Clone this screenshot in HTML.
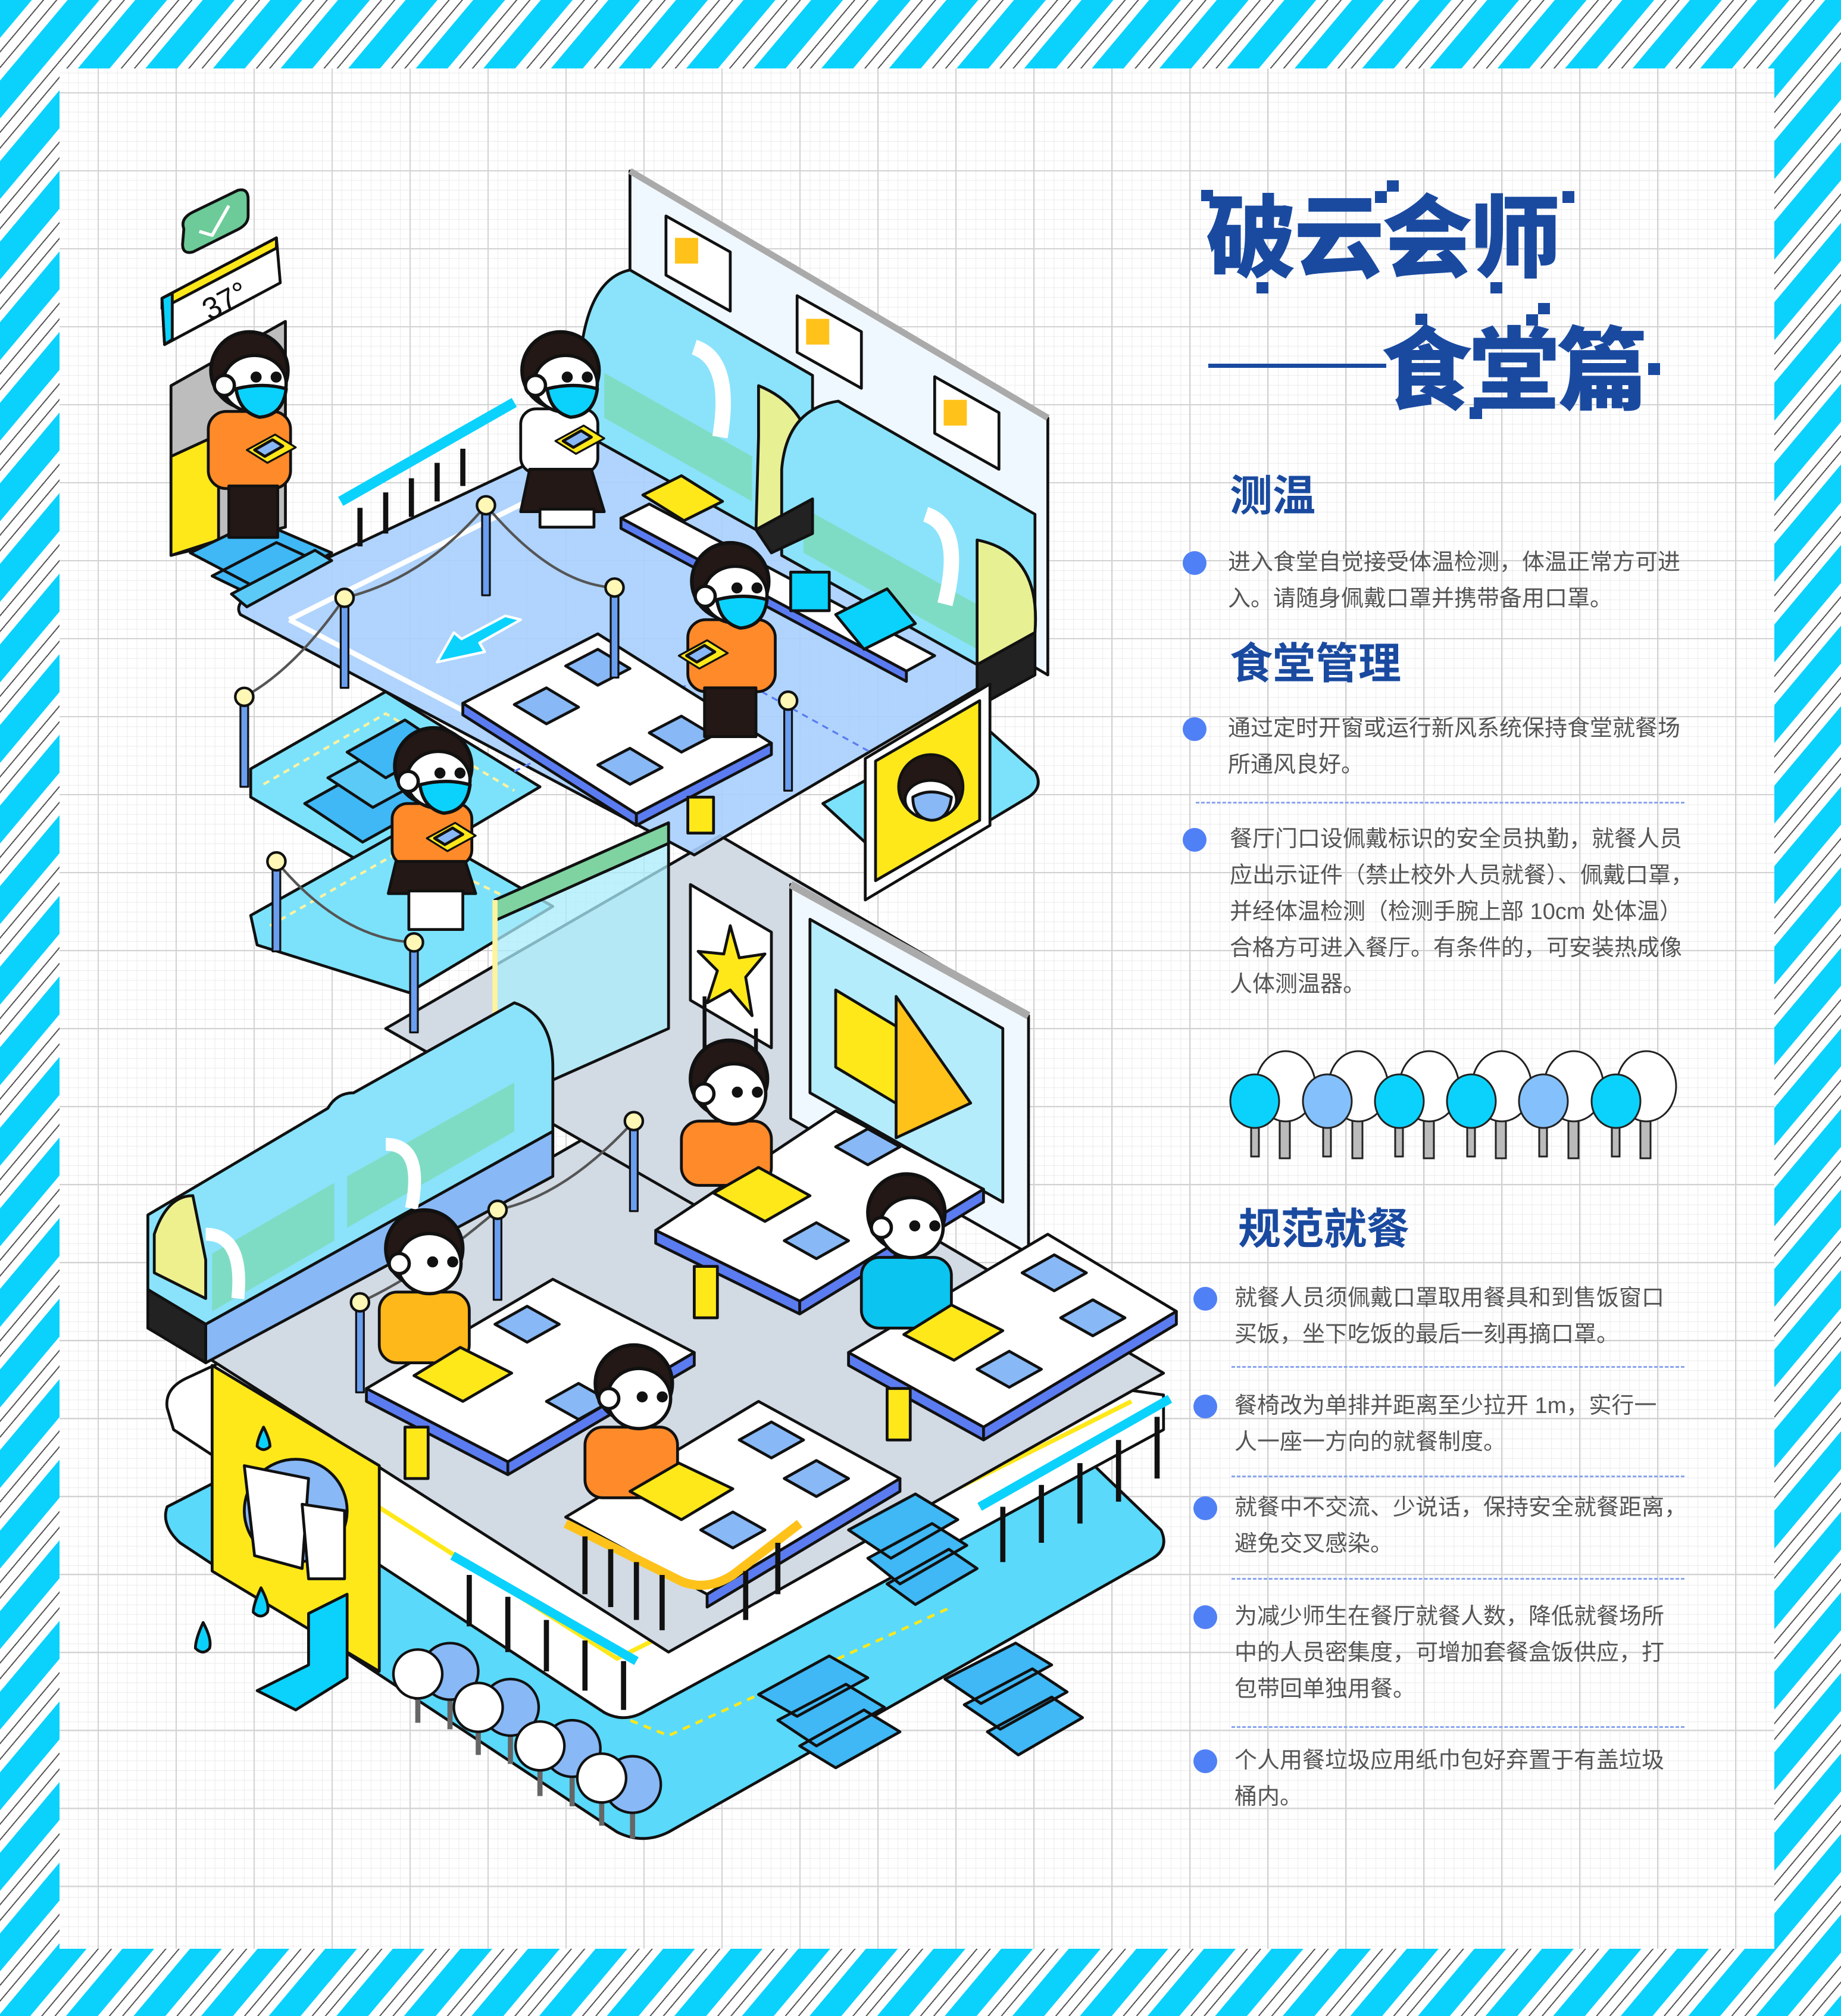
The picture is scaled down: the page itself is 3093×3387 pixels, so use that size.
<!DOCTYPE html>
<html><head><meta charset="utf-8">
<style>
html,body{margin:0;padding:0;}
body{width:3093px;height:3387px;position:relative;overflow:hidden;
background:repeating-linear-gradient(130deg,#0bd2fc 0 41px,#fff 41px 55px,#555 55px 57px,#fff 57px 72px,#555 72px 74px,#fff 74px 87px);}
#panel{position:absolute;left:100px;top:115px;width:2881px;height:3159px;background-color:#fff;
background-image:
linear-gradient(#d2d2d2 2px,transparent 2px),
linear-gradient(90deg,#d2d2d2 2px,transparent 2px),
linear-gradient(#ebebeb 1px,transparent 1px),
linear-gradient(90deg,#ebebeb 1px,transparent 1px);
background-size:131px 131px,131px 131px,16.4px 16.4px,16.4px 16.4px;
background-position:64px 40px,64px 40px,64px 40px,64px 40px;}
.t{position:absolute;font-family:"Liberation Sans","Noto Sans CJK SC",sans-serif;white-space:nowrap;}
.title{font-size:152px;font-weight:900;color:#1a4aa0;line-height:1;letter-spacing:-4px;}
.h{font-size:72px;font-weight:700;color:#1a4aa0;line-height:1;}
.p{font-size:38px;color:#555;line-height:61px;}
.dot{position:absolute;width:40px;height:40px;border-radius:50%;background:#5080f5;}
.dash{position:absolute;height:0;border-top:3px dashed #8aa4ee;}
svg{position:absolute;left:0;top:0;}
</style></head><body>
<div id="panel"></div>

<svg width="3093" height="3387" viewBox="0 0 3093 3387">
<defs>
<g id="head">
 <circle cx="0" cy="-3" r="23" fill="#231815"/>
 <ellipse cx="3" cy="5" rx="19" ry="17" fill="#fff" stroke="#111" stroke-width="2"/>
 <circle cx="-15" cy="6" r="6" fill="#fff" stroke="#111" stroke-width="2"/>
 <circle cx="4" cy="1" r="2.2" fill="#111"/><circle cx="16" cy="1" r="2.2" fill="#111"/>
 <path d="M-8,8 Q8,4 22,8 Q20,24 6,25 Q-6,22 -8,8Z" fill="#0bd2fc" stroke="#111" stroke-width="2"/>
</g>
<g id="headn">
 <circle cx="0" cy="-3" r="23" fill="#231815"/>
 <ellipse cx="3" cy="6" rx="19" ry="18" fill="#fff" stroke="#111" stroke-width="2"/>
 <circle cx="-15" cy="6" r="6" fill="#fff" stroke="#111" stroke-width="2"/>
 <circle cx="5" cy="5" r="2.2" fill="#111"/><circle cx="17" cy="5" r="2.2" fill="#111"/>
</g>
<g id="tray">
 <path d="M0,0 L22,-12 L38,-2 L16,10Z" fill="#ffe81a" stroke="#111" stroke-width="1.5"/>
 <path d="M6,0 L20,-8 L28,-3 L14,5Z" fill="#88b8f5"/>
</g>
<g id="post">
 <rect x="-3" y="0" width="6" height="70" fill="#6a9ff0" stroke="#111" stroke-width="1.5"/>
 <circle cx="0" cy="0" r="7" fill="#fff7b5" stroke="#111" stroke-width="2"/>
</g>
</defs>

<!-- trees (actual coords) -->
<g stroke="#222" stroke-width="3">
 <g fill="#bbb">
  <rect x="2150" y="1880" width="17" height="66"/><rect x="2272" y="1880" width="17" height="66"/>
  <rect x="2392" y="1880" width="17" height="66"/><rect x="2513" y="1880" width="17" height="66"/>
  <rect x="2635" y="1880" width="17" height="66"/><rect x="2756" y="1880" width="17" height="66"/>
 </g>
 <g fill="#fff">
  <ellipse cx="2160" cy="1825" rx="50" ry="59"/><ellipse cx="2282" cy="1825" rx="50" ry="59"/>
  <ellipse cx="2401" cy="1825" rx="50" ry="59"/><ellipse cx="2523" cy="1825" rx="50" ry="59"/>
  <ellipse cx="2644" cy="1825" rx="50" ry="59"/><ellipse cx="2766" cy="1825" rx="50" ry="59"/>
 </g>
 <g fill="#bbb">
  <rect x="2102" y="1893" width="13" height="50"/><rect x="2223" y="1893" width="13" height="50"/>
  <rect x="2344" y="1893" width="13" height="50"/><rect x="2465" y="1893" width="13" height="50"/>
  <rect x="2586" y="1893" width="13" height="50"/><rect x="2708" y="1893" width="13" height="50"/>
 </g>
 <ellipse cx="2108" cy="1850" rx="41" ry="45" fill="#0bd2fc"/>
 <ellipse cx="2230" cy="1850" rx="41" ry="45" fill="#84c0fb"/>
 <ellipse cx="2351" cy="1850" rx="41" ry="45" fill="#0bd2fc"/>
 <ellipse cx="2472" cy="1850" rx="41" ry="45" fill="#0bd2fc"/>
 <ellipse cx="2593" cy="1850" rx="41" ry="45" fill="#84c0fb"/>
 <ellipse cx="2715" cy="1850" rx="41" ry="45" fill="#0bd2fc"/>
</g>

<!-- title pixel squares -->
<g fill="#1a4aa0">
 <rect x="2018" y="319" width="20" height="19"/>
 <rect x="2330" y="303" width="20" height="19"/>
 <rect x="2310" y="321" width="20" height="20"/>
 <rect x="2111" y="474" width="20" height="19"/>
 <rect x="2504" y="474" width="20" height="19"/>
 <rect x="2625" y="321" width="20" height="20"/>
 <rect x="2378" y="527" width="20" height="19"/>
 <rect x="2584" y="509" width="20" height="19"/>
 <rect x="2564" y="528" width="20" height="19"/>
 <rect x="2769" y="610" width="20" height="20"/>
 <rect x="2469" y="684" width="21" height="20"/>
</g>

<g transform="scale(2.16)" stroke="#111" stroke-width="2.2" stroke-linejoin="round">
 <!-- lower cyan ground -->
 <path d="M130,1172 L300,1085 L480,1165 L700,1150 L820,1110 L903,1190 Q910,1205 895,1213 L520,1425 Q500,1435 480,1425 L140,1200 Q125,1186 130,1172Z" fill="#5ad9fa"/>
 <path d="M470,1330 L520,1350 L740,1250" fill="none" stroke="#ffe81a" stroke-dasharray="6 5"/>
 <!-- white slab -->
 <path d="M130,1095 Q128,1080 145,1072 L300,1000 L905,1085 L905,1112 L500,1332 Q485,1340 470,1332 L135,1112Z" fill="#fff"/>
 <path d="M165,1090 L480,1290 L880,1090" fill="none" stroke="#ffe81a" stroke-width="3.5"/>
 <!-- gray dining floor -->
 <path d="M160,1055 L525,845 L905,1068 L520,1285Z" fill="#d2dae4"/>
 <!-- middle gray area -->
 <path d="M300,800 L560,650 L800,790 L545,940Z" fill="#d2dae4"/>
 <!-- left cyan platforms -->
 <path d="M195,598 L300,538 L420,612 L312,676 Q300,682 290,676 L195,620Z" fill="#7ce2fb"/>
 <path d="M195,712 L320,642 L430,705 L318,772 L200,735Z" fill="#7ce2fb"/>
 <path d="M205,610 L300,555 L400,615 M210,720 L315,660 L415,708" fill="none" stroke="#fff3a0" stroke-dasharray="5 4" stroke-width="2"/>
 <!-- right cyan platform -->
 <path d="M640,625 L760,560 L805,600 Q812,612 800,620 L700,680 Z" fill="#7ce2fb"/>
 <!-- upper floor -->
 <path d="M187,478 Q182,470 195,462 L470,333 L790,518 L540,665 Z" fill="#a7cffd" fill-opacity="0.9"/>
 <path d="M225,482 L430,380 M225,482 L470,610" fill="none" stroke="#fff" stroke-width="4"/>
 <path d="M400,600 L560,520 L740,620" fill="none" stroke="#5b7cf0" stroke-dasharray="5 4" stroke-width="1.5"/>
 <path d="M405,482 L373,500 L377,507 L340,515 L353,492 L359,497 L393,479Z" fill="#0bd2fc" stroke="#fff" stroke-width="2"/>
 <!-- back wall -->
 <path d="M490,133 L815,325 L815,525 L490,333Z" fill="#f0f8ff"/>
 <path d="M490,133 L815,325" stroke="#aaa" stroke-width="5"/>
 <path d="M518,168 L568,196 L568,242 L518,214Z" fill="#fff"/><rect x="525" y="185" width="18" height="20" fill="#ffc21a" stroke="none"/>
 <path d="M620,230 L670,258 L670,302 L620,274Z" fill="#fff"/><rect x="627" y="248" width="18" height="20" fill="#ffc21a" stroke="none"/>
 <path d="M727,293 L777,321 L777,365 L727,337Z" fill="#fff"/><rect x="734" y="311" width="18" height="20" fill="#ffc21a" stroke="none"/>
 <!-- upper counters -->
 <path d="M450,300 Q452,218 490,210 L632,292 L632,388 L588,412 L450,335Z" fill="#8ae3fb"/>
 <path d="M470,290 L585,355 L585,390 L470,325Z" fill="#7fdcc4" stroke="none"/>
 <path d="M590,300 Q640,320 632,388 L588,412 L590,340Z" fill="#fff27a" fill-opacity="0.8"/>
 <path d="M540,270 Q570,280 560,340" fill="none" stroke="#fff" stroke-width="12"/>
 <path d="M608,365 Q612,318 652,312 L805,400 L805,492 L760,517 L608,432Z" fill="#8ae3fb"/>
 <path d="M625,395 L760,470 L760,505 L625,430Z" fill="#7fdcc4" stroke="none"/>
 <path d="M760,420 Q810,430 805,492 L760,517Z" fill="#fff27a" fill-opacity="0.8"/>
 <path d="M720,400 Q750,410 735,470" fill="none" stroke="#fff" stroke-width="12"/>
 <path d="M760,517 L805,492 L805,525 L760,550Z" fill="#222"/>
 <path d="M588,412 L632,388 L632,415 L600,430Z" fill="#222"/>
 <!-- upper shelf -->
 <path d="M483,403 L505,392 L727,510 L705,522Z" fill="#fff"/>
 <path d="M483,403 L705,522 L705,530 L483,411Z" fill="#5b7cf0"/>
 <path d="M500,385 L530,370 L562,390 L532,405Z" fill="#ffe81a"/>
 <rect x="615" y="445" width="30" height="30" fill="#0bd2fc"/>
 <path d="M650,478 L690,458 L712,485 L672,505Z" fill="#0bd2fc"/>
 <!-- door top-left -->
 <path d="M133,300 L222,250 L222,410 L133,432Z" fill="#bdbdbd"/>
 <path d="M133,355 L170,338 L170,420 L133,432Z" fill="#ffe81a"/>
 <path d="M126,232 L215,185 L218,220 L128,268Z" fill="#fff"/>
 <path d="M126,232 L215,185 L215,193 L126,240Z" fill="#ffe81a"/>
 <path d="M126,232 L134,228 L134,264 L128,268Z" fill="#0bd2fc"/>
 <text x="158" y="246" font-family="Liberation Sans" font-size="24" fill="#111" stroke="none" transform="rotate(-28 168 238)">37°</text>
 <path d="M143,178 Q140,170 150,165 L185,148 Q193,146 193,155 L193,168 Q193,174 186,178 L150,196 Q142,198 142,190Z" fill="#6ccb98"/>
 <path d="M155,180 L165,183 L178,160" fill="none" stroke="#fff" stroke-width="2.5"/>
 <!-- stairs top-left -->
 <path d="M148,430 L200,405 L258,430 L205,460Z M165,448 L215,422 L250,438 L200,465Z" fill="#3fb8f5"/>
 <path d="M180,462 L245,428 L258,436 L192,472Z" fill="#5ccaf7"/>
 <!-- railings top -->
 <path d="M265,390 L400,313" stroke="#0bd2fc" stroke-width="8"/>
 <path d="M280,395 L280,425 M300,383 L300,415 M320,372 L320,402 M340,360 L340,390 M360,349 L360,378" stroke="#111" stroke-width="4"/>
 <!-- left middle stairs -->
 <path d="M237,625 L300,590 L345,620 L282,655Z" fill="#3fb8f5"/>
 <path d="M255,605 L310,575 L345,598 L290,628Z" fill="#5ccaf7"/>
 <path d="M270,585 L315,560 L345,580 L300,605Z" fill="#3fb8f5"/>
 <!-- upper table -->
 <path d="M360,547 L465,493 L600,578 L495,633Z" fill="#fff"/>
 <path d="M360,547 L495,633 L495,642 L360,556Z" fill="#5b7cf0"/>
 <path d="M495,633 L600,578 L600,587 L495,642Z" fill="#5b7cf0"/>
 <path d="M440,518 L465,505 L490,520 L465,533Z M400,548 L425,535 L450,550 L425,563Z M505,570 L530,557 L555,572 L530,585Z M465,595 L490,582 L515,597 L490,610Z" fill="#88b8f5"/>
 <rect x="535" y="620" width="20" height="28" fill="#ffe81a"/>
 <!-- right yellow poster -->
 <path d="M673,590 L770,532 L770,642 L673,700Z" fill="#fff"/>
 <path d="M681,592 L762,545 L762,638 L681,685Z" fill="#ffe81a"/>
 <circle cx="724" cy="612" r="25" fill="#231815"/>
 <ellipse cx="724" cy="622" rx="20" ry="15" fill="#fff"/>
 <path d="M710,620 Q724,612 740,620 Q738,638 724,638 Q710,636 710,620Z" fill="#88b8f5"/>
 <!-- glass door -->
 <path d="M385,700 L520,640 L520,800 L385,860Z" fill="#a9ecfb" fill-opacity="0.75"/>
 <path d="M385,700 L520,640 L520,656 L385,716Z" fill="#7fd3a0"/>
 <path d="M385,700 L385,840" stroke="#fff3a0" stroke-width="4"/>
 <!-- star board -->
 <path d="M537,688 L600,725 L600,815 L537,778Z" fill="#fff"/>
 <path d="M568,720 L575,745 L595,742 L580,760 L585,790 L568,770 L550,780 L558,755 L543,740 L563,742Z" fill="#ffe81a"/>
 <path d="M548,775 L548,830 M588,800 L588,845" stroke="#111" stroke-width="3"/>
 <!-- big board -->
 <path d="M615,688 L800,790 L800,975 L615,870Z" fill="#f0f8ff"/>
 <path d="M615,688 L800,790" stroke="#aaa" stroke-width="6"/>
 <path d="M630,715 L780,800 L780,935 L630,850Z" fill="#b5ecfb"/>
 <path d="M650,770 L700,800 L700,860 L650,830Z" fill="#ffe81a"/>
 <path d="M697,775 L755,858 L697,885Z" fill="#ffc21a"/>
 <!-- lower counters -->
 <path d="M115,945 L255,862 Q262,850 275,850 L400,780 Q430,790 430,830 L430,880 L160,1030 L115,1003Z" fill="#8ae3fb"/>
 <path d="M120,960 Q130,930 150,930 L160,980 L160,1010 L120,990Z" fill="#fff27a" fill-opacity="0.85"/>
 <path d="M165,975 L260,920 L260,965 L165,1020Z M270,915 L400,842 L400,880 L270,955Z" fill="#7fdcc4" stroke="none"/>
 <path d="M160,1030 L430,880 L430,915 L160,1060Z" fill="#88b8f5"/>
 <path d="M115,1003 L160,1030 L160,1060 L115,1033Z" fill="#222"/>
 <path d="M160,960 Q190,960 185,1010 M300,890 Q330,890 320,940" fill="none" stroke="#fff" stroke-width="10"/>
 <!-- left yellow handwash poster -->
 <path d="M165,1062 L295,1140 L295,1300 L165,1222Z" fill="#ffe81a"/>
 <circle cx="230" cy="1175" r="40" fill="#88b8f5"/>
 <path d="M190,1140 L240,1150 L235,1220 L198,1210Z" fill="#fff"/>
 <path d="M235,1170 L268,1175 L268,1228 L240,1228Z" fill="#fff"/>
 <path d="M205,1110 Q210,1120 210,1125 Q205,1130 200,1125 Q200,1120 205,1110Z M158,1262 Q165,1275 163,1282 Q158,1288 152,1282 Q152,1275 158,1262Z M203,1235 Q210,1248 208,1254 Q203,1260 197,1254 Q197,1248 203,1235Z" fill="#0bd2fc"/>
 <path d="M240,1255 L270,1240 L270,1305 L230,1330 L200,1315 L240,1295Z" fill="#0bd2fc"/>
 <!-- lower tables -->
 <g>
  <path d="M285,1080 L430,995 L540,1052 L395,1137Z" fill="#fff"/>
  <path d="M285,1080 L395,1137 L395,1147 L285,1090Z M395,1137 L540,1052 L540,1062 L395,1147Z" fill="#5b7cf0"/>
  <path d="M385,1030 L410,1016 L435,1030 L410,1044Z M425,1090 L450,1076 L475,1090 L450,1104Z" fill="#88b8f5"/>
  <rect x="315" y="1110" width="18" height="40" fill="#ffe81a"/>
  <path d="M510,957 L650,864 L765,925 L622,1012Z" fill="#fff"/>
  <path d="M510,957 L622,1012 L622,1022 L510,967Z M622,1012 L765,925 L765,935 L622,1022Z" fill="#5b7cf0"/>
  <path d="M650,892 L675,878 L700,892 L675,906Z M610,965 L635,951 L660,965 L635,979Z" fill="#88b8f5"/>
  <rect x="540" y="985" width="18" height="40" fill="#ffe81a"/>
  <path d="M660,1052 L815,960 L915,1020 L765,1110Z" fill="#fff"/>
  <path d="M660,1052 L765,1110 L765,1120 L660,1062Z M765,1110 L915,1020 L915,1030 L765,1120Z" fill="#5b7cf0"/>
  <path d="M795,990 L820,976 L845,990 L820,1004Z M825,1025 L850,1011 L875,1025 L850,1039Z M760,1065 L785,1051 L810,1065 L785,1079Z" fill="#88b8f5"/>
  <rect x="690" y="1080" width="18" height="40" fill="#ffe81a"/>
  <path d="M440,1180 L590,1090 L700,1150 L550,1240Z" fill="#fff"/>
  <path d="M550,1240 L700,1150 L700,1160 L550,1250Z" fill="#5b7cf0"/>
  <path d="M575,1120 L600,1106 L625,1120 L600,1134Z M610,1150 L635,1136 L660,1150 L635,1164Z M545,1190 L570,1176 L595,1190 L570,1204Z" fill="#88b8f5"/>
 </g>
 <!-- railings lower -->
 <path d="M440,1185 L530,1230 Q550,1238 570,1225 L622,1185" fill="none" stroke="#ffc21a" stroke-width="7"/>
 <path d="M455,1195 L455,1240 M475,1205 L475,1250 M495,1215 L495,1260 M515,1225 L515,1268 M580,1222 L580,1260 M605,1200 L605,1240" stroke="#111" stroke-width="4"/>
 <path d="M762,1172 L910,1088" stroke="#0bd2fc" stroke-width="7"/>
 <path d="M780,1172 L780,1215 M810,1155 L810,1200 M840,1138 L840,1185 M870,1120 L870,1168 M900,1102 L900,1150" stroke="#111" stroke-width="4"/>
 <path d="M352,1210 L495,1292" stroke="#0bd2fc" stroke-width="7"/>
 <path d="M365,1225 L365,1265 M395,1242 L395,1285 M425,1260 L425,1300 M455,1276 L455,1315 M485,1292 L485,1330" stroke="#111" stroke-width="4"/>
 <!-- lower stairs -->
 <path d="M660,1190 L712,1162 L745,1182 L693,1212Z M675,1212 L725,1185 L752,1202 L700,1232Z M690,1232 L738,1205 L760,1220 L712,1248Z" fill="#3fb8f5"/>
 <path d="M590,1318 L645,1288 L675,1305 L620,1335Z M605,1338 L658,1310 L688,1328 L635,1358Z M622,1358 L672,1330 L700,1347 L650,1375Z" fill="#3fb8f5"/>
 <path d="M735,1306 L790,1278 L818,1295 L763,1325Z M750,1326 L803,1298 L830,1316 L778,1345Z M768,1347 L818,1320 L842,1336 L792,1365Z" fill="#3fb8f5"/>
 <!-- lollipops -->
 <g stroke-width="2">
  <path d="M325,1320 L325,1340 M350,1315 L350,1345 M372,1345 L372,1365 M397,1340 L397,1372 M420,1377 L420,1397 M445,1372 L445,1405 M468,1400 L468,1420 M492,1395 L492,1430" stroke="#666" stroke-width="4"/>
  <circle cx="350" cy="1300" r="22" fill="#88b8f5"/><circle cx="325" cy="1302" r="19" fill="#fff"/>
  <circle cx="397" cy="1328" r="22" fill="#88b8f5"/><circle cx="372" cy="1328" r="19" fill="#fff"/>
  <circle cx="445" cy="1360" r="22" fill="#88b8f5"/><circle cx="420" cy="1358" r="19" fill="#fff"/>
  <circle cx="492" cy="1388" r="22" fill="#88b8f5"/><circle cx="468" cy="1383" r="19" fill="#fff"/>
 </g>
 <!-- posts & ropes -->
 <path d="M378,393 Q330,450 268,465 M378,393 Q430,455 478,457 M268,465 Q230,520 190,542 M215,670 Q265,730 322,733 M493,872 Q440,930 387,941 M387,941 Q330,990 280,1013" fill="none" stroke="#555" stroke-width="2"/>
 <use href="#post" x="378" y="393"/><use href="#post" x="268" y="465"/><use href="#post" x="478" y="457"/>
 <use href="#post" x="190" y="542"/><use href="#post" x="613" y="545"/><use href="#post" x="215" y="670"/>
 <use href="#post" x="322" y="733"/><use href="#post" x="493" y="872"/><use href="#post" x="387" y="941"/>
 <use href="#post" x="280" y="1013"/>
 <!-- characters -->
 <g>
  <rect x="162" y="320" width="64" height="60" rx="14" fill="#ff8a2a"/>
  <rect x="178" y="378" width="38" height="40" fill="#231815"/>
  <use href="#tray" x="192" y="350"/>
  <use href="#head" transform="translate(194 292) scale(1.3)"/>
 </g>
 <g>
  <rect x="405" y="318" width="60" height="50" rx="12" fill="#fff"/>
  <path d="M412,365 L460,365 L470,398 L405,398Z" fill="#231815"/>
  <rect x="420" y="396" width="42" height="14" fill="#fff"/>
  <use href="#tray" x="432" y="343"/>
  <use href="#head" transform="translate(436 292) scale(1.3)"/>
 </g>
 <g>
  <rect x="535" y="482" width="68" height="56" rx="14" fill="#ff8a2a"/>
  <rect x="548" y="535" width="40" height="38" fill="#231815"/>
  <use href="#tray" x="528" y="510"/>
  <use href="#head" transform="translate(568 456) scale(1.3)"/>
 </g>
 <g>
  <rect x="305" y="625" width="62" height="48" rx="12" fill="#ff8a2a"/>
  <path d="M308,670 L362,670 L370,695 L302,695Z" fill="#231815"/>
  <rect x="318" y="693" width="42" height="30" fill="#fff"/>
  <use href="#tray" x="332" y="652"/>
  <use href="#head" transform="translate(337 600) scale(1.3)"/>
 </g>
 <g>
  <rect x="530" y="872" width="70" height="50" rx="14" fill="#ff8a2a"/>
  <use href="#headn" transform="translate(567 843) scale(1.3)"/>
  <path d="M555,928 L590,908 L630,930 L595,950Z" fill="#ffe81a"/>
 </g>
 <g>
  <rect x="295" y="1005" width="70" height="55" rx="14" fill="#ffb81a"/>
  <use href="#headn" transform="translate(330 975) scale(1.3)"/>
  <path d="M322,1070 L358,1048 L398,1068 L360,1090Z" fill="#ffe81a"/>
 </g>
 <g>
  <rect x="670" y="978" width="70" height="55" rx="14" fill="#0bc4f0"/>
  <use href="#headn" transform="translate(705 947) scale(1.3)"/>
  <path d="M703,1038 L740,1015 L780,1035 L742,1058Z" fill="#ffe81a"/>
 </g>
 <g>
  <rect x="455" y="1110" width="72" height="55" rx="14" fill="#ff8a2a"/>
  <use href="#headn" transform="translate(493 1080) scale(1.3)"/>
  <path d="M490,1160 L528,1138 L570,1158 L530,1182Z" fill="#ffe81a"/>
 </g>
</g>
</svg>

<div class="t title" style="left:2026px;top:326px;">破云会师</div>
<div style="position:absolute;left:2030px;top:611px;width:299px;height:7px;background:#1a4aa0;"></div>
<div class="t title" style="left:2320px;top:548px;">食堂篇</div>

<div class="t h" style="left:2066px;top:798px;">测温</div>
<div class="dot" style="left:1987px;top:926px;"></div>
<div class="t p" style="left:2063px;top:915px;">进入食堂自觉接受体温检测，体温正常方可进<br>入。请随身佩戴口罩并携带备用口罩。</div>

<div class="t h" style="left:2066px;top:1080px;">食堂管理</div>
<div class="dot" style="left:1987px;top:1205px;"></div>
<div class="t p" style="left:2063px;top:1194px;">通过定时开窗或运行新风系统保持食堂就餐场<br>所通风良好。</div>
<div class="dash" style="left:2009px;top:1347px;width:821px;"></div>
<div class="dot" style="left:1987px;top:1391px;"></div>
<div class="t p" style="left:2066px;top:1380px;">餐厅门口设佩戴标识的安全员执勤，就餐人员<br>应出示证件（禁止校外人员就餐）、佩戴口罩，<br>并经体温检测（检测手腕上部 10cm 处体温）<br>合格方可进入餐厅。有条件的，可安装热成像<br>人体测温器。</div>

<div class="t h" style="left:2080px;top:2030px;">规范就餐</div>
<div class="dot" style="left:2005px;top:2162px;"></div>
<div class="t p" style="left:2074px;top:2151px;">就餐人员须佩戴口罩取用餐具和到售饭窗口<br>买饭，坐下吃饭的最后一刻再摘口罩。</div>
<div class="dash" style="left:2069px;top:2295px;width:761px;"></div>
<div class="dot" style="left:2005px;top:2343px;"></div>
<div class="t p" style="left:2074px;top:2332px;">餐椅改为单排并距离至少拉开 1m，实行一<br>人一座一方向的就餐制度。</div>
<div class="dash" style="left:2069px;top:2479px;width:761px;"></div>
<div class="dot" style="left:2005px;top:2514px;"></div>
<div class="t p" style="left:2074px;top:2503px;">就餐中不交流、少说话，保持安全就餐距离，<br>避免交叉感染。</div>
<div class="dash" style="left:2069px;top:2651px;width:761px;"></div>
<div class="dot" style="left:2005px;top:2697px;"></div>
<div class="t p" style="left:2074px;top:2686px;">为减少师生在餐厅就餐人数，降低就餐场所<br>中的人员密集度，可增加套餐盒饭供应，打<br>包带回单独用餐。</div>
<div class="dash" style="left:2069px;top:2900px;width:761px;"></div>
<div class="dot" style="left:2005px;top:2939px;"></div>
<div class="t p" style="left:2074px;top:2928px;">个人用餐垃圾应用纸巾包好弃置于有盖垃圾<br>桶内。</div>
</body></html>
